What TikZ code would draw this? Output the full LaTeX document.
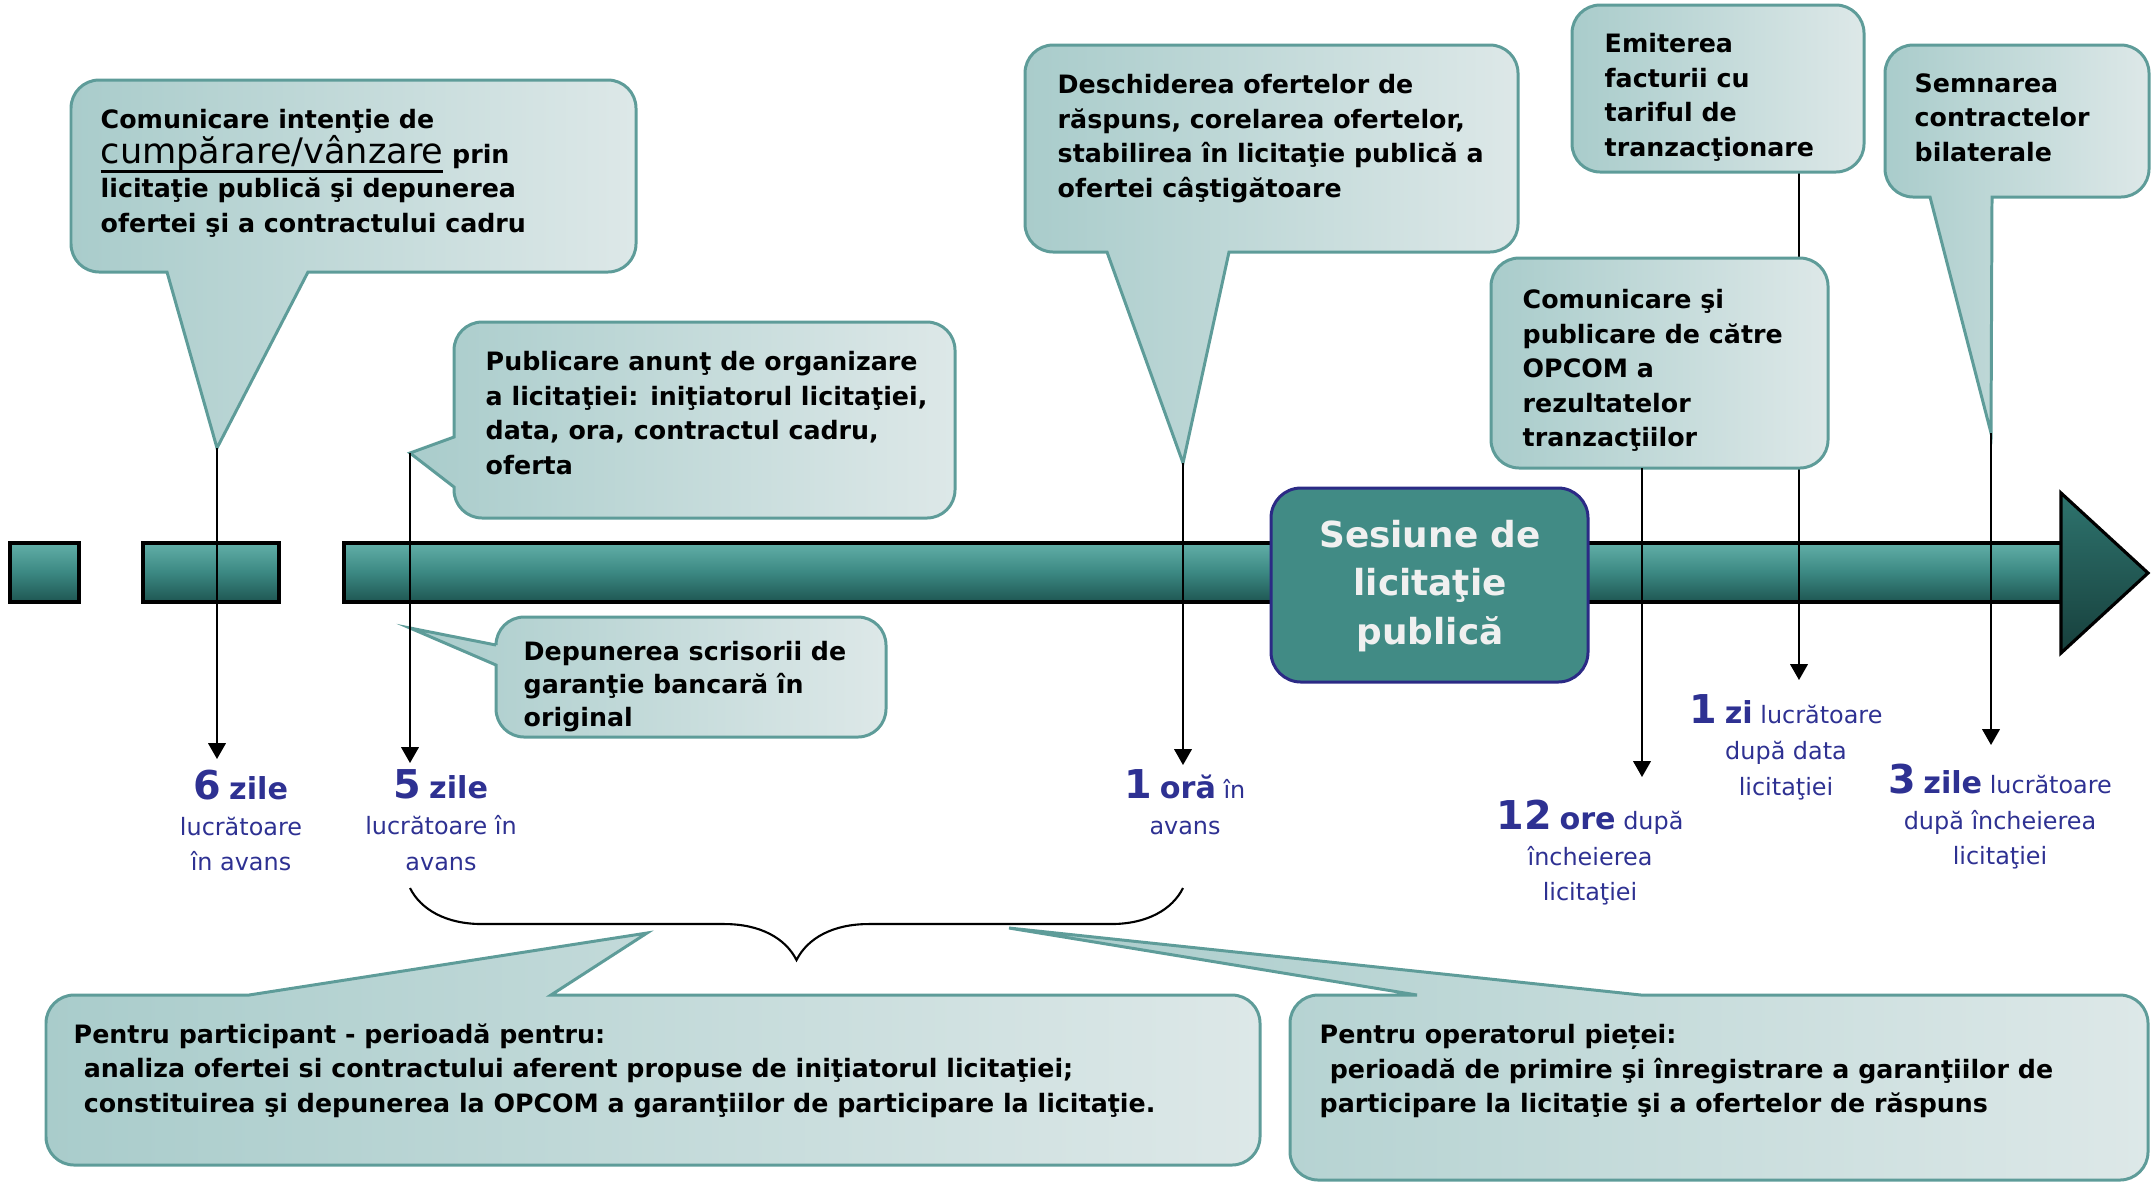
\documentclass[tikz,border=0pt]{standalone}
\usepackage{fontspec}
\setmainfont{DejaVu Sans}
\usepackage{tikz}
\usetikzlibrary{
    arrows.meta,
    decorations.pathreplacing,
    calc,
    positioning
}
\definecolor{barteal}{HTML}{3B8882}
\definecolor{barlight}{HTML}{62AFA8}
\definecolor{bardark}{HTML}{1E5652}
\definecolor{headdark}{HTML}{173F3C}
\definecolor{headtop}{HTML}{2E746E}
\definecolor{boxedge}{HTML}{5E9C99}
\definecolor{boxleft}{HTML}{A9CCCB}
\definecolor{boxright}{HTML}{DDE8E8}
\definecolor{lblue}{HTML}{2E3192}
\definecolor{sesfill}{HTML}{418B85}
\definecolor{sesedge}{HTML}{2B2A85}
\newcommand{\lblnum}[1]{{\fontsize{11.3}{10}\selectfont\bfseries #1}}
\newcommand{\unitw}[1]{{\fontsize{8.6}{10}\selectfont\bfseries #1}}
\newcommand{\ulword}[1]{{\setbox0\hbox{#1}\rlap{\rule[-2.7pt]{\wd0}{0.75pt}}\box0}}
\tikzset{callout/.style={draw=boxedge, line width=0.85pt, left color=boxleft, right color=boxright}}
\tikzset{ctext/.style={anchor=north west, inner sep=0pt, align=left, font=\fontsize{7.2}{9.8}\selectfont\bfseries}}
\tikzset{barseg/.style={draw=black, line width=0.9pt, top color=barlight, bottom color=bardark, middle color=barteal}}
\tikzset{tick/.style={line width=0.45pt, -{Triangle[length=4.5pt,width=5pt]}}}
\tikzset{lbl/.style={anchor=north, inner sep=0pt, align=center, text=lblue, font=\fontsize{6.8}{10.2}\selectfont}}
\tikzset{sesbox/.style={draw=sesedge, line width=0.85pt, fill=sesfill, rounded corners=8.5pt}}

\begin{document}
\begin{tikzpicture}[x=0.1mm, y=-0.1mm]
\useasboundingbox (0,0) rectangle (2152,1184);

\draw[barseg] (10,543) rectangle (79,602);
\draw[barseg] (143,543) rectangle (279,602);
\draw[barseg] (344,543) rectangle (2062,602);
\draw[draw=black, line width=0.9pt, top color=headtop, bottom color=headdark]
    (2061,493) -- (2148,573) -- (2061,653) -- cycle;

\coordinate (tipEm) at (1799,172);
\coordinate (endEm) at (1799,680);
\draw[tick] (tipEm) -- (endEm);

\draw[callout] (167,272) [rounded corners=8pt] -- (71,272) -- (71,80) -- (636,80) -- (636,272)
    [sharp corners] -- (308,272) -- (217,448) -- cycle;
\draw[callout] (454,437) [rounded corners=8pt] -- (454,322) -- (955,322) -- (955,518) -- (454,518)
    [sharp corners] -- (454,487) -- (410,453) -- cycle;
\draw[callout] (496,645) [rounded corners=8pt] -- (496,617) -- (886,617) -- (886,737) -- (496,737)
    [sharp corners] -- (496,665) -- (410,628) -- cycle;
\draw[callout] (1107,252) [rounded corners=8pt] -- (1025,252) -- (1025,45) -- (1518,45) -- (1518,252)
    [sharp corners] -- (1229,252) -- (1183,463) -- cycle;
\draw[callout, rounded corners=8pt] (1572,5) rectangle (1864,172);
\draw[callout, rounded corners=8pt] (1491,258) rectangle (1828,468);
\draw[callout] (1930,197) [rounded corners=8pt] -- (1885,197) -- (1885,45) -- (2149,45) -- (2149,197)
    [sharp corners] -- (1992,197) -- (1991,433) -- cycle;
\draw[callout] (551,995) [rounded corners=8pt] -- (1260,995) -- (1260,1165) -- (46,1165) -- (46,995)
    [sharp corners] -- (249,995) -- (647,933) -- cycle;
\draw[callout] (1641,995) [rounded corners=8pt] -- (2148,995) -- (2148,1180) -- (1290,1180) -- (1290,995)
    [sharp corners] -- (1417,995) -- (1009,928) -- cycle;

\draw[sesbox] (1271,488) rectangle (1588,682);
\node[align=center, inner sep=0pt, text=white!94!black, font=\fontsize{10.2}{13.8}\selectfont\bfseries]
    (sesiune) at (1430,586) {Sesiune de\\licitaţie\\publică};

\node[ctext] (tcom) at (100,109) {Comunicare intenţie de\\{\fontsize{10}{10}\selectfont\mdseries\ulword{cumpărare/vânzare}} prin\\licitaţie publică şi depunerea\\ofertei şi a contractului cadru};
\node[ctext] (tpub) at (485,351) {Publicare anunţ de organizare\\a licitaţiei: iniţiatorul licitaţiei,\\data, ora, contractul cadru,\\oferta};
\node[ctext, font=\fontsize{7.2}{9.3}\selectfont\bfseries] (tdep) at (523,641) {Depunerea scrisorii de\\garanţie bancară în\\original};
\node[ctext] (tdes) at (1057,74) {Deschiderea ofertelor de\\răspuns, corelarea ofertelor,\\stabilirea în licitaţie publică a\\ofertei câştigătoare};
\node[ctext] (temi) at (1604,33) {Emiterea\\facturii cu\\tariful de\\tranzacţionare};
\node[ctext] (trez) at (1522,289) {Comunicare şi\\publicare de către\\OPCOM a\\rezultatelor\\tranzacţiilor};
\node[ctext] (tsem) at (1914,73) {Semnarea\\contractelor\\bilaterale};
\node[ctext] (tpart) at (73,1023) {Pentru participant - perioadă pentru:\\\hspace*{0.4em}analiza ofertei si contractului aferent propuse de iniţiatorul licitaţiei;\\\hspace*{0.4em}constituirea şi depunerea la OPCOM a garanţiilor de participare la licitaţie.};
\node[ctext] (topr) at (1319,1024) {Pentru operatorul pieței:\\\hspace*{0.4em}perioadă de primire şi înregistrare a garanţiilor de\\participare la licitaţie şi a ofertelor de răspuns};

\node[lbl] (l6) at (241,769) {\lblnum{6} \unitw{zile}\\lucrătoare\\în avans};
\node[lbl] (l5) at (441,769) {\lblnum{5} \unitw{zile}\\lucrătoare în\\avans};
\node[lbl] (l1h) at (1185,769) {\lblnum{1} \unitw{oră} în\\avans};
\node[lbl] (l12) at (1590,799) {\lblnum{12} \unitw{ore} după\\încheierea\\licitaţiei};
\node[lbl] (l1z) at (1786,694) {\lblnum{1} \unitw{zi} lucrătoare\\după data\\licitaţiei};
\node[lbl] (l3) at (2000,763) {\lblnum{3} \unitw{zile} lucrătoare\\după încheierea\\licitaţiei};

\coordinate (tipA) at (217,448);
\coordinate (tipB) at (410,453);
\coordinate (tipD) at (1183,463);
\coordinate (tipR) at (1642,468);
\coordinate (tipS) at (1991,433);
\coordinate (endA) at (217,759);
\coordinate (endB) at (410,763);
\coordinate (endD) at (1183,765);
\coordinate (endR) at (1642,777);
\coordinate (endS) at (1991,745);
\draw[tick] (tipA) -- (endA);
\draw[tick] (tipB) -- (endB);
\draw[tick] (tipD) -- (endD);
\draw[tick] (tipR) -- (endR);
\draw[tick] (tipS) -- (endS);

\coordinate (brL) at (410,888);
\coordinate (brR) at (1183,888);
\draw[line width=0.6pt, decorate, decoration={brace, mirror, amplitude=20.5pt}] (brL) -- (brR);
\end{tikzpicture}
\end{document}
